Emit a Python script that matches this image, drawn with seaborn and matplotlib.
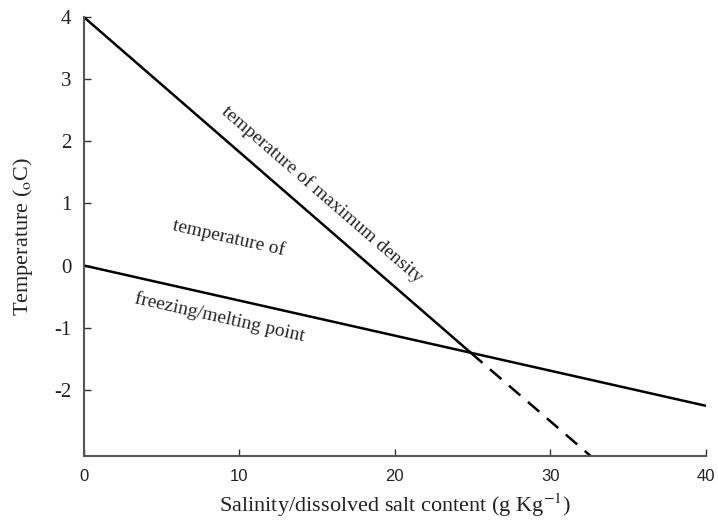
import matplotlib
matplotlib.use("Agg")
import matplotlib.pyplot as plt
import seaborn as sns
import pandas as pd

sns.set_style("ticks")
plt.rcParams['font.family'] = ['Liberation Serif', 'DejaVu Serif']
plt.rcParams['mathtext.fontset'] = 'stix'
plt.rcParams['axes.unicode_minus'] = False

# salinity (g/kg) and temperature (C) end points
maxdens_s = [0, 24.9]
maxdens_t = [4.0, -1.41]
maxdens_ext_s = [24.9, 32.6]
maxdens_ext_t = [-1.41, -3.07]
freeze_s = [0, 40]
freeze_t = [0.0, -2.26]

x_ticks = [0, 10, 20, 30, 40]
y_ticks = [4, 3, 2, 1, 0, -1, -2]

fig = plt.figure(figsize=(7.18, 5.23), dpi=100)
ax = fig.add_axes([0.117, 0.128, 0.866, 0.839])

sns.lineplot(x=maxdens_s, y=maxdens_t, ax=ax, color='black', lw=1.8)
sns.lineplot(x=maxdens_ext_s, y=maxdens_ext_t, ax=ax, color='black', lw=1.8,
             dashes=False, linestyle=(0, (6, 4)))
sns.lineplot(x=freeze_s, y=freeze_t, ax=ax, color='black', lw=1.8)

ax.set_xlim(0, 40)
ax.set_ylim(-3.07, 4)
ax.set_xticks(x_ticks)
ax.set_yticks(y_ticks)
ax.tick_params(direction='in', length=5, width=1, colors='#333333', labelcolor='#222222')
ax.tick_params(axis='x', pad=9)
ax.tick_params(axis='y', pad=9)
for lab in ax.get_xticklabels():
    lab.set_family(['Liberation Sans', 'DejaVu Sans'])
    lab.set_fontsize(12)
for lab in ax.get_yticklabels():
    lab.set_fontsize(15)
for side in ['top', 'right']:
    ax.spines[side].set_visible(False)
for side in ['left', 'bottom']:
    ax.spines[side].set_color('#555555')
    ax.spines[side].set_linewidth(1.5)

ax.set_xlabel('Salinity/dissolved salt content (g Kg$^{-1}$)', fontsize=16,
              color='#222222', labelpad=6)
ax.set_ylabel('Temperature ($_{\\mathrm{o}}$C)', fontsize=16, color='#222222',
              labelpad=14)

ax.text(15.3, 1.15, 'temperature of maximum density', rotation=-40.9,
        ha='center', va='center', fontsize=14, rotation_mode='anchor')
ax.text(9.3, 0.45, 'temperature of', rotation=-12.7,
        ha='center', va='center', fontsize=14, rotation_mode='anchor')
ax.text(8.75, -0.84, 'freezing/melting point', rotation=-12.7,
        ha='center', va='center', fontsize=14, rotation_mode='anchor')

fig.savefig('out.png', dpi=100)
